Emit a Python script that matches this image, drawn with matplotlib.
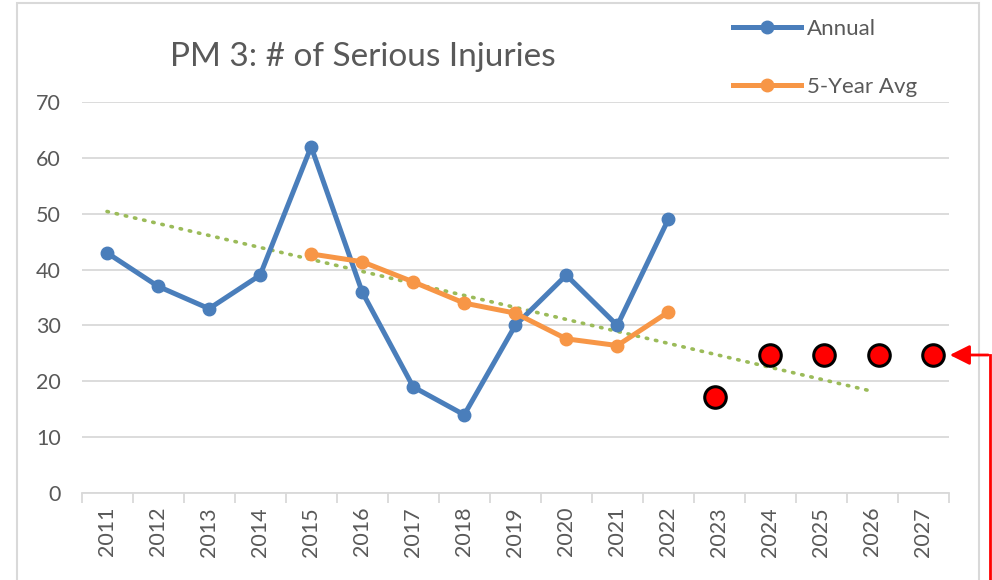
import matplotlib
matplotlib.use("Agg")
import matplotlib.pyplot as plt
from matplotlib.lines import Line2D
from matplotlib.patches import Rectangle, FancyArrowPatch

plt.rcParams['font.family'] = ['Lato', 'DejaVu Sans']

years = [str(y) for y in range(2011, 2028)]
annual_years = years[:12]
annual = [43, 37, 33, 39, 62, 36, 19, 14, 30, 39, 30, 49]
avg_years = years[4:12]
avg5 = [42.8, 41.4, 37.8, 34.0, 32.2, 27.6, 26.4, 32.4]
trend_years = ['2011', '2026']
trend = [50.4, 18.2]
target_years = [2023, 2024, 2025, 2026, 2027]
targets = [17.2, 24.7, 24.7, 24.7, 24.7]

idx = {y: i for i, y in enumerate(years)}

fig = plt.figure(figsize=(9.92, 5.8), dpi=100)
ax = fig.add_axes([81.5/992, 1-493/580, (949-81.5)/992, (493-102)/580])

gray = '#595959'
grid = '#d9d9d9'
blue = '#4a7ebb'
orange = '#f79646'
green = '#9bbb59'

ax.plot([idx[y] for y in trend_years], trend, color=green, lw=2.6,
        linestyle=(0, (0.4, 2.2)), dash_capstyle='round', zorder=2)
ax.plot([idx[y] for y in annual_years], annual, color=blue, lw=3.6,
        marker='o', ms=9, zorder=3, label='Annual')
ax.plot([idx[y] for y in avg_years], avg5, color=orange, lw=3.6,
        marker='o', ms=9, zorder=4, label='5-Year Avg')

ax.set_xlim(-0.5, 16.5)
ax.set_ylim(0, 70)
ax.set_yticks(range(0, 71, 10))
ax.set_xticks(range(len(years)))
ax.set_xticklabels(years, rotation=90)
ax.set_xticks([i + 0.5 for i in range(-1, 17)], minor=True)
ax.tick_params(axis='x', which='major', length=0, labelsize=15.5, labelcolor=gray, pad=10)
ax.tick_params(axis='x', which='minor', length=7, color=grid, width=1.3)
ax.tick_params(axis='y', length=0, labelsize=15.5, labelcolor=gray, pad=15)
ax.grid(axis='y', color=grid, lw=1.3)
ax.set_axisbelow(True)
for s in ['top', 'right', 'left']:
    ax.spines[s].set_visible(False)
ax.spines['bottom'].set_color(grid)
ax.spines['bottom'].set_linewidth(1.3)

# target points on a secondary (scatter) x-axis, as in the source spreadsheet
ax2 = ax.twiny()
ax2.set_xlim(2011.37, 2027.29)
ax2.set_ylim(0, 70)
ax2.plot(target_years, targets, linestyle='none',
         marker='o', ms=15.5, mfc='#ff0000', mec='black', mew=2.2, zorder=5,
         clip_on=False)
ax2.axis('off')

fig.text(170/992, 1-57/580, 'PM 3: # of Serious Injuries', fontsize=24,
         color=gray, va='center', ha='left')

handles = [Line2D([], [], color=blue, lw=3.6, marker='o', ms=9),
           Line2D([], [], color=orange, lw=3.6, marker='o', ms=9)]
fig.legend(handles, ['Annual', '5-Year Avg'], loc='upper left',
           bbox_to_anchor=(724/992, 1-10/580), borderaxespad=0,
           frameon=False, fontsize=16,
           labelcolor=gray, handlelength=3.05, handletextpad=0.27,
           labelspacing=1.72)

fig.add_artist(Rectangle((17/992, -0.05), (979-17)/992, 1.05-3/580,
                         transform=fig.transFigure, fill=False,
                         edgecolor=grid, lw=1.5, zorder=0))

red = '#ff0000'
fig.add_artist(Line2D([990/992, 990/992], [0, 1-355/580],
                      transform=fig.transFigure, color=red, lw=2))
fig.add_artist(FancyArrowPatch((991/992, 1-355/580), (947/992, 1-355/580),
                               transform=fig.transFigure, color=red, lw=2,
                               arrowstyle='-|>,head_length=8,head_width=4',
                               mutation_scale=1.5))

fig.savefig('out.png', dpi=100)
